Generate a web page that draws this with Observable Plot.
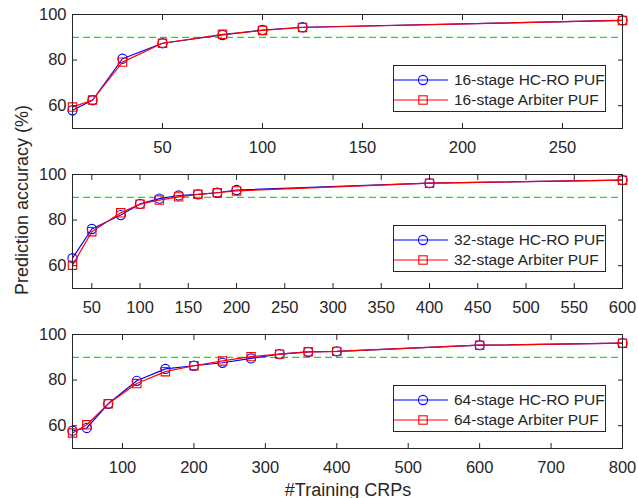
<!DOCTYPE html>
<html>
<head>
<meta charset="utf-8">
<script src="https://cdn.jsdelivr.net/npm/d3@7"></script>
<script src="https://cdn.jsdelivr.net/npm/@observablehq/plot@0.6"></script>
<style>
  html, body { margin: 0; padding: 0; background: #fff; }
  #wrap { position: relative; width: 638px; height: 498px; background: #fff; font-family: "Liberation Sans", Arial, Helvetica, sans-serif; color: #262626; overflow: hidden; }
  .panel { position: absolute; left: 0; }
  .legend { position: absolute; left: 393px; width: 211px; height: 45px; border: 1px solid #262626; background: #fff; font-size: 15.5px; }
  .row { position: absolute; left: 0; height: 20px; display: flex; align-items: center; white-space: nowrap; }
  .row svg { display: block; margin-right: 4px; }
  .ylab { position: absolute; left: 22px; top: 200px; transform: translate(-50%, -50%) rotate(-90deg); font-size: 18px; white-space: nowrap; }
  .xlab { position: absolute; left: 348px; top: 490px; transform: translate(-50%, -50%); font-size: 18px; white-space: nowrap; }
</style>
</head>
<body>
<div id="wrap"></div>
<script>
// ---- data ----
const x16 = [5, 15, 30, 50, 80, 100, 120, 280];
const hcro16 = [58.0, 62.4, 80.6, 87.4, 91.0, 93.2, 94.4, 97.4];
const arb16 = [59.4, 62.5, 79.1, 87.4, 91.3, 93.0, 94.3, 97.4];

const x32 = [30, 50, 80, 100, 120, 140, 160, 180, 200, 400, 600];
const hcro32 = [63.3, 76.1, 82.2, 87.1, 89.4, 90.8, 91.3, 92.0, 93.2, 96.2, 97.5];
const arb32 = [60.2, 74.9, 83.2, 87.0, 88.8, 90.2, 91.3, 92.0, 92.8, 96.2, 97.5];

const x64 = [30, 50, 80, 120, 160, 200, 240, 280, 320, 360, 400, 600, 800];
const hcro64 = [57.8, 59.0, 69.6, 79.7, 84.9, 86.3, 87.6, 89.5, 91.4, 92.4, 92.6, 95.3, 96.2];
const arb64 = [56.8, 60.4, 69.6, 78.5, 83.7, 86.3, 88.4, 90.3, 91.4, 92.4, 92.6, 95.3, 96.2];

const xTicks16 = [50, 100, 150, 200, 250];
const xTicks32 = [50, 100, 150, 200, 250, 300, 350, 400, 450, 500, 550, 600];
const xTicks64 = [100, 200, 300, 400, 500, 600, 700, 800];
const yTicks = [60, 80, 100];
const threshold = [90];

const seriesNames = {
  16: ["16-stage HC-RO PUF", "16-stage Arbiter PUF"],
  32: ["32-stage HC-RO PUF", "32-stage Arbiter PUF"],
  64: ["64-stage HC-RO PUF", "64-stage Arbiter PUF"]
};
const yLabel = "Prediction accuracy (%)";
const xLabel = "#Training CRPs";

// ---- drawing ----
const AX = "#262626";
const FONT = "'Liberation Sans', Arial, Helvetica, sans-serif";
const wrap = document.getElementById("wrap");

function panel(top, height, xs, blue, red, xDomain, xTicks, names) {
  const data = xs.map((x, i) => ({x, b: blue[i], r: red[i]}));
  const chart = Plot.plot({
    width: 638,
    height,
    marginLeft: 72,
    marginRight: 16,
    marginTop: 14,
    marginBottom: height - 14 - 114,
    x: {domain: xDomain},
    y: {domain: [50, 100]},
    style: {fontFamily: FONT, fontSize: "16.5px", color: AX, background: "transparent", overflow: "visible"},
    marks: [
      Plot.ruleY(threshold, {stroke: "#00ee00", strokeDasharray: "7,4", strokeWidth: 1.2}),
      Plot.line(data, {x: "x", y: "b", stroke: "#0000ff", strokeWidth: 1.2}),
      Plot.dot(data, {x: "x", y: "b", symbol: "circle", stroke: "#0000ff", fill: "none", r: 4.6, strokeWidth: 1.1}),
      Plot.line(data, {x: "x", y: "r", stroke: "#ff0000", strokeWidth: 1.2}),
      Plot.dot(data, {x: "x", y: "r", symbol: "square", stroke: "#ff0000", fill: "none", r: 4.7, strokeWidth: 1.1}),
      Plot.frame({stroke: AX, strokeWidth: 1}),
      Plot.axisX(xTicks, {anchor: "bottom", tickSize: -5, tickPadding: 18, label: null, stroke: AX}),
      Plot.axisX(xTicks, {anchor: "top", tickSize: -5, tickFormat: () => "", label: null, stroke: AX}),
      Plot.axisY(yTicks, {anchor: "left", tickSize: -5, tickPadding: 11, label: null, stroke: AX}),
      Plot.axisY(yTicks, {anchor: "right", tickSize: -5, tickFormat: () => "", label: null, stroke: AX})
    ]
  });
  const div = document.createElement("div");
  div.className = "panel";
  div.style.top = top + "px";
  div.appendChild(chart);
  wrap.appendChild(div);

  const leg = document.createElement("div");
  leg.className = "legend";
  leg.style.top = (top + 14 + 51) + "px";
  const mk = (name, color, shape, y) => {
    const row = document.createElement("div");
    row.className = "row";
    row.style.top = y + "px";
    const ns = "http://www.w3.org/2000/svg";
    const s = document.createElementNS(ns, "svg");
    s.setAttribute("width", 56); s.setAttribute("height", 20);
    const ln = document.createElementNS(ns, "line");
    ln.setAttribute("x1", 0); ln.setAttribute("x2", 54); ln.setAttribute("y1", 10); ln.setAttribute("y2", 10);
    ln.setAttribute("stroke", color); ln.setAttribute("stroke-width", 1.2);
    s.appendChild(ln);
    let m;
    if (shape === "circle") {
      m = document.createElementNS(ns, "circle");
      m.setAttribute("cx", 29); m.setAttribute("cy", 10); m.setAttribute("r", 4.6);
    } else {
      m = document.createElementNS(ns, "rect");
      m.setAttribute("x", 29 - 4.2); m.setAttribute("y", 10 - 4.2); m.setAttribute("width", 8.4); m.setAttribute("height", 8.4);
    }
    m.setAttribute("fill", "none"); m.setAttribute("stroke", color); m.setAttribute("stroke-width", 1.1);
    s.appendChild(m);
    row.appendChild(s);
    const t = document.createElement("span");
    t.textContent = name;
    row.appendChild(t);
    leg.appendChild(row);
  };
  mk(names[0], "#0000ff", "circle", 4);
  mk(names[1], "#ff0000", "square", 24);
  wrap.appendChild(leg);
}

panel(0, 160, x16, hcro16, arb16, [5, 280], xTicks16, seriesNames[16]);
panel(160, 160, x32, hcro32, arb32, [30, 600], xTicks32, seriesNames[32]);
panel(320, 178, x64, hcro64, arb64, [30, 800], xTicks64, seriesNames[64]);

const yl = document.createElement("div");
yl.className = "ylab"; yl.textContent = yLabel;
wrap.appendChild(yl);
const xl = document.createElement("div");
xl.className = "xlab"; xl.textContent = xLabel;
wrap.appendChild(xl);
</script>
</body>
</html>
